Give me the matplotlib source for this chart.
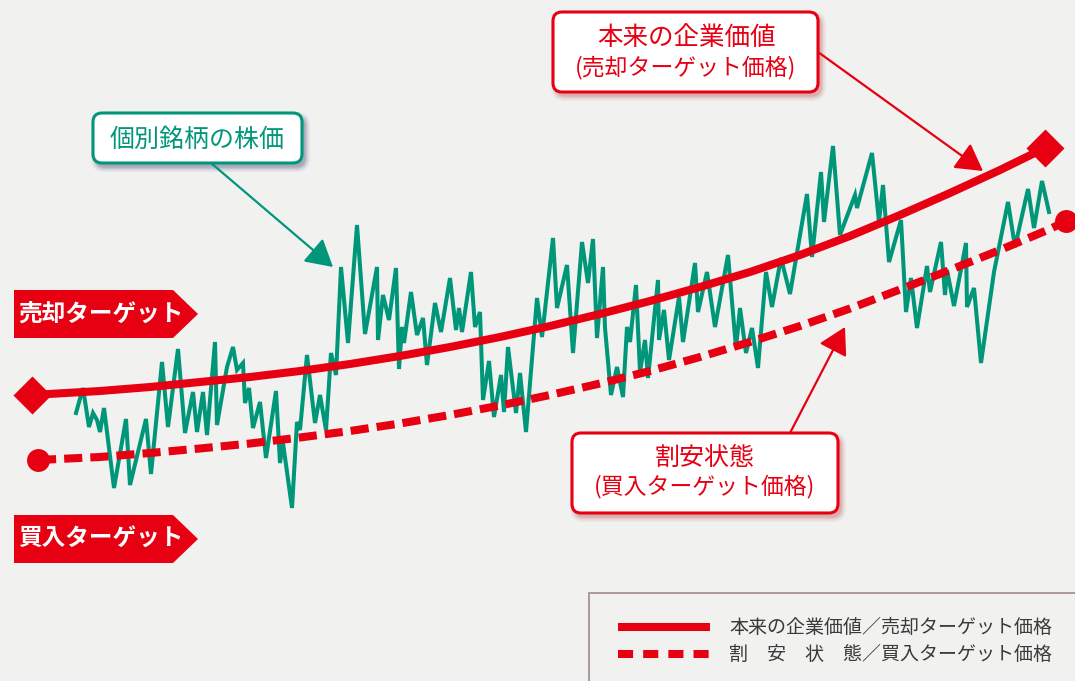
import matplotlib
matplotlib.use('Agg')
import matplotlib.pyplot as plt
from matplotlib.patches import FancyBboxPatch, Polygon, Rectangle

plt.rcParams['font.family'] = ['Noto Sans CJK JP', 'DejaVu Sans']

# ---------------- data ----------------
stock_x = [76, 83, 89, 93, 97, 100, 104, 114, 126, 130, 146, 151, 162, 168, 178, 185, 193, 197, 203, 207,
           215, 217, 227, 233, 237, 243, 245, 249, 253,
           260, 266, 276, 280, 283, 292, 297, 300, 307, 315, 320, 326, 331, 336, 341, 348, 357, 365, 377, 378,
           383, 389, 396, 399, 402, 404, 411, 417, 423, 427, 435, 441, 450,
           456, 459, 462, 471, 475, 480, 483, 489, 494, 501, 504, 508, 516, 520, 526, 537, 542, 553, 557, 567,
           573, 582, 588, 593, 597, 603, 605, 611, 617, 623, 627, 630, 636,
           640, 645, 648, 658, 659, 664, 669, 679, 683, 695, 698, 707, 715, 728, 736, 740, 746, 752, 758, 766,
           772, 781, 790, 807, 812, 821, 824, 833, 840,
           855, 857, 872, 879, 883, 889, 901, 906, 911, 917, 927, 930, 941, 945, 947, 954, 966, 967, 974, 981,
           994, 1008, 1015, 1028, 1034, 1042, 1049]
stock_price = [268, 293, 254, 268, 261, 249, 273, 193, 262, 196, 262, 207, 319, 254, 332, 248, 289, 249, 289, 246,
               339, 256, 314, 334, 311, 318, 278, 293, 253,
               279, 223, 290, 218, 238, 173, 259, 251, 326, 258, 286, 251, 328, 306, 414, 338, 456, 347, 414, 341,
               386, 361, 413, 312, 354, 338, 389, 346, 363, 316, 378, 349, 403,
               351, 373, 349, 409, 354, 369, 281, 320, 264, 306, 269, 334, 268, 308, 249, 383, 344, 443, 373, 416,
               328, 439, 398, 442, 343, 414, 353, 286, 314, 284, 354, 339, 396,
               309, 341, 303, 401, 341, 371, 321, 384, 339, 418, 369, 409, 354, 426, 333, 373, 328, 353, 313, 409,
               374, 423, 387, 487, 424, 509, 459, 535, 446,
               486, 473, 528, 459, 496, 419, 461, 369, 403, 353, 415, 389, 439, 386, 411, 375, 438, 374, 393, 318,
               409, 479, 434, 492, 453, 500, 469]

value_x = [32, 100, 150, 200, 250, 300, 350, 400, 450, 500, 550, 600, 650, 700, 750, 800, 850, 900, 950, 1000, 1045]
value_price = [286, 290, 294, 299, 304, 310, 317, 325, 334, 344, 355, 367, 380, 394, 409, 426, 445, 466, 488, 511, 533]

buy_x = [38, 100, 150, 200, 250, 300, 350, 400, 450, 500, 550, 600, 650, 700, 750, 800, 850, 900, 950, 1000, 1050, 1066]
buy_price = [221, 224, 228, 232.5, 237.5, 243.5, 250, 257.5, 266, 275.5, 286, 297.5, 310, 324, 339, 355, 372.5,
             391.5, 411, 431, 452, 460]

label_sell = '売却ターゲット'
label_buy = '買入ターゲット'
callout_value = ['本来の企業価値', '(売却ターゲット価格)']
callout_stock = '個別銘柄の株価'
callout_cheap = ['割安状態', '(買入ターゲット価格)']
legend_labels = ['本来の企業価値／売却ターゲット価格', '割\u3000安\u3000状\u3000態／買入ターゲット価格']

# ---------------- style ----------------
RED = '#E60012'
GREEN = '#00967A'
BG = '#F1F1F0'
TXT = '#3A3A3A'
LW = 5.8

fig = plt.figure(figsize=(10.75, 6.81), dpi=100)
fig.patch.set_facecolor(BG)
ax = fig.add_axes([0, 0, 1, 1])
ax.set_facecolor(BG)
ax.set_xlim(0, 1075)
ax.set_ylim(0, 681)
ax.axis('off')

# series
ax.plot(stock_x, stock_price, color=GREEN, lw=2.9, solid_joinstyle='miter', zorder=3)
ax.plot(value_x, value_price, color=RED, lw=LW, solid_capstyle='butt', solid_joinstyle='round', zorder=4)
ax.plot(buy_x, buy_price, color=RED, lw=LW, dashes=(2.25, 1.0), dash_capstyle='butt', zorder=4)
ax.plot([value_x[0], value_x[-1]], [value_price[0], value_price[-1]], ls='none', marker='D',
        ms=19, color=RED, mec='none', zorder=5)
ax.plot([buy_x[0], buy_x[-1]], [buy_price[0], buy_price[-1]], ls='none', marker='o',
        ms=16.5, color=RED, mec='none', zorder=5)


def callout(x0, y0, x1, y1, edge, shadow):
    w, h = x1 - x0, y1 - y0
    for pad, a in [(5, 0.06), (3.5, 0.08), (2, 0.12), (0.5, 0.16)]:
        ax.add_patch(FancyBboxPatch((x0 + 3, y0 - 4), w, h,
                                    boxstyle=f'round,pad={pad},rounding_size={9 + pad}',
                                    fc=shadow, ec='none', alpha=a, zorder=6))
    ax.add_patch(FancyBboxPatch((x0, y0), w, h, boxstyle='round,pad=0,rounding_size=9',
                                fc='white', ec=edge, lw=2.2, zorder=7))


def arrow(start, end, color):
    ax.annotate('', xy=end, xytext=start, xycoords='data', textcoords='data',
                arrowprops=dict(arrowstyle='-|>,head_length=16.5,head_width=9.4', mutation_scale=1,
                                color=color, lw=1.6, shrinkA=0, shrinkB=0), zorder=8)


# callout: 本来の企業価値
callout(553, 589, 818, 669, RED, '#B04040')
ax.text(686, 643, callout_value[0], color=RED, fontsize=18.4, ha='center', va='center', zorder=9)
ax.text(686, 613, callout_value[1], color=RED, fontsize=16.5, ha='center', va='center', zorder=9)
arrow((818, 629), (983, 510), RED)

# callout: 個別銘柄の株価
callout(93, 518, 302, 568, GREEN, '#303060')
ax.text(197, 541, callout_stock, color=GREEN, fontsize=18, ha='center', va='center', zorder=9)
arrow((211, 518), (333, 414), GREEN)

# callout: 割安状態
callout(572, 168, 838, 248, RED, '#B04040')
ax.text(705, 223, callout_cheap[0], color=RED, fontsize=18, ha='center', va='center', zorder=9)
ax.text(705, 194, callout_cheap[1], color=RED, fontsize=16.5, ha='center', va='center', zorder=9)
arrow((790, 248), (845, 354), RED)


# left arrow labels
def tag(yc, text):
    top, bot = yc + 24, yc - 24
    ax.add_patch(Polygon([(14, top), (173, top), (198, yc), (173, bot), (14, bot)],
                         closed=True, fc=RED, ec='none', zorder=6))
    ax.text(18, yc, text, color='white', fontsize=17, fontweight='bold', ha='left', va='center', zorder=7)


tag(367, label_sell)
tag(142, label_buy)

# legend box
ax.add_patch(Rectangle((589, -5), 500, 93, fc='none', ec='#9C8C8A', lw=1.2, zorder=6))
ax.plot([618, 710], [54, 54], color=RED, lw=LW, solid_capstyle='butt', zorder=7)
ax.plot([618, 710], [27, 27], color=RED, lw=LW, dashes=(1.875, 1.25), dash_capstyle='butt', zorder=7)
ax.text(729, 54, legend_labels[0], color=TXT, fontsize=13.7, ha='left', va='center', zorder=7)
ax.text(729, 27, legend_labels[1], color=TXT, fontsize=13.7, ha='left', va='center', zorder=7)

fig.savefig('out.png', dpi=100, facecolor=BG)
